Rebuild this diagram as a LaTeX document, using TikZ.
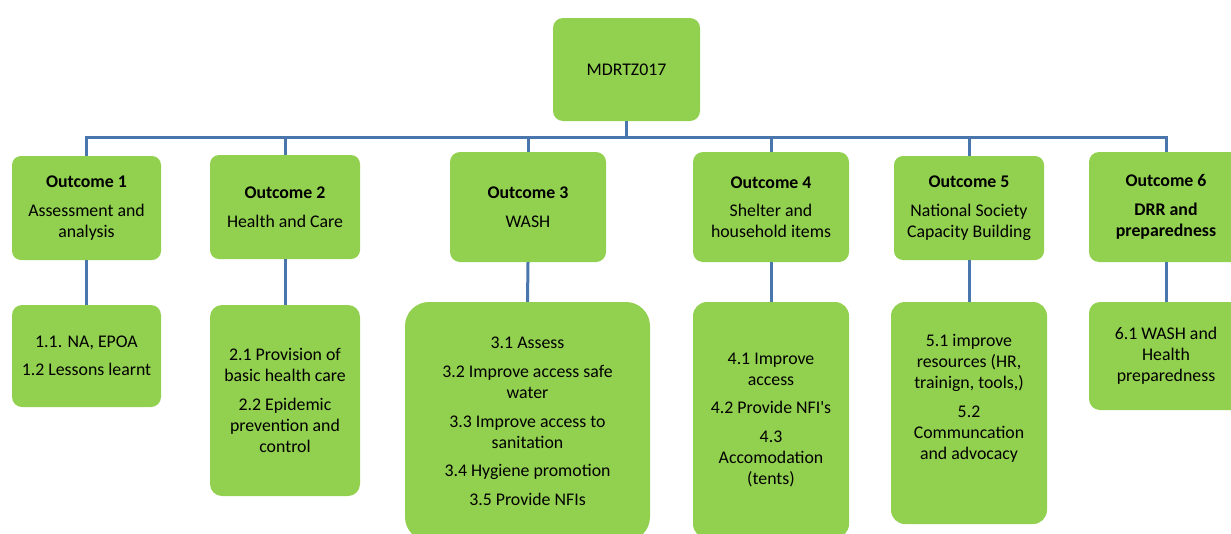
\documentclass[tikz,border=0pt]{standalone}
\usepackage{fontspec}
\setmainfont{Carlito}[Ligatures=TeXOff]
\definecolor{boxgreen}{HTML}{92D050}
\definecolor{linkblue}{HTML}{4A76AE}
\tikzset{
  box/.style={fill=boxgreen, rounded corners=#1, align=center, inner sep=0pt,
    font=\fontsize{17.8}{21}\selectfont},
  box/.default=10pt,
  txt/.style={align=center, inner sep=0pt, font=\fontsize{17.8}{21}\selectfont},
  link/.style={draw=linkblue, line width=3pt, line join=miter},
}
\begin{document}
\begin{tikzpicture}[x=1pt,y=-1pt]
\useasboundingbox (0,0) rectangle (1231,533);
\clip (0,0) rectangle (1231,533);
% root
\node[box=10pt, minimum width=147pt, minimum height=103pt] (root) at (626.5,69.5) {MDRTZ017};
% outcomes
\node[box=9pt, minimum width=149pt, minimum height=104pt] (o1) at (86.5,208)
  {\textbf{Outcome 1}\\[7.5pt]Assessment and\\analysis};
\node[box=9pt, minimum width=150pt, minimum height=104pt] (o2) at (285,207)
  {\textbf{Outcome 2}\\[7.5pt]Health and Care};
\node[box=10pt, minimum width=156pt, minimum height=110pt] (o3) at (528,207)
  {\textbf{Outcome 3}\\[7.5pt]WASH};
\node[box=10pt, minimum width=156pt, minimum height=110pt] (o4) at (771,207)
  {\textbf{Outcome 4}\\[7.5pt]Shelter and\\household items};
\node[box=9pt, minimum width=150pt, minimum height=104pt] (o5) at (969,208)
  {\textbf{Outcome 5}\\[7.5pt]National Society\\Capacity Building};
\node[box=10pt, minimum width=154pt, minimum height=110pt] (o6) at (1166,207)
  {\textbf{Outcome 6}\\[7.5pt]\textbf{DRR and}\\\textbf{preparedness}};
% sub boxes
\node[box=10pt, minimum width=149pt, minimum height=102pt] (s1) at (86.5,356)
  {1.1. NA, EPOA\\[7.5pt]1.2 Lessons learnt};
\node[box=12pt, minimum width=150pt, minimum height=191pt] (s2) at (285,400.5)
  {2.1 Provision of\\basic health care\\[8pt]2.2 Epidemic\\prevention and\\control};
\node[box=24pt, minimum width=245pt, minimum height=239pt] (s3) at (527.5,421.5)
  {3.1 Assess\\[8pt]3.2 Improve access safe\\water\\[8pt]3.3 Improve access to\\sanitation\\[7.5pt]3.4 Hygiene promotion\\[8pt]3.5 Provide NFIs};
\node[box=14pt, minimum width=156pt, minimum height=236pt] (s4) at (771,420)
  {4.1 Improve\\access\\[7.5pt]4.2 Provide NFI's\\[8pt]4.3\\Accomodation\\(tents)};
\node[box=14pt, minimum width=156pt, minimum height=222pt] (s5) at (969,413) {};
\node[txt] (t5) at (969,398)
  {5.1 improve\\resources (HR,\\trainign, tools,)\\[8pt]5.2\\Communcation\\and advocacy};
\node[box=11pt, minimum width=154pt, minimum height=108pt] (s6) at (1166,356)
  {6.1 WASH and\\Health\\preparedness};
% connectors
\coordinate (bus) at (626.5,137);
\draw[link] (root.south) -- (bus);
\draw[link] (o1.north) -- (o1.north |- bus) -- (o6.north |- bus) -- (o6.north);
\foreach \n in {o2,o3,o4,o5} \draw[link] (\n.north) -- (\n.north |- bus);
\foreach \i in {1,...,6} \draw[link] (o\i.south) -- (s\i.north);
\end{tikzpicture}
\end{document}
